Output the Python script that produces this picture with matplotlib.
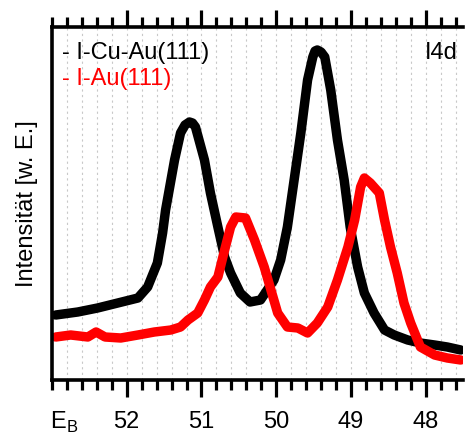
import matplotlib
matplotlib.use("Agg")
import matplotlib.pyplot as plt
from matplotlib.ticker import MultipleLocator

plt.rcParams['font.family'] = ['Liberation Sans', 'DejaVu Sans']

# Binding energy (eV) and intensity (arb. units)
e_cuau = [52.95, 52.655, 52.39, 52.12, 51.85, 51.72, 51.59, 51.52, 51.48, 51.36,
          51.28, 51.22, 51.16, 51.12, 51.08, 50.96, 50.88, 50.78, 50.69, 50.61,
          50.48, 50.35, 50.21, 50.03, 49.94, 49.85, 49.76, 49.67, 49.58, 49.51,
          49.48, 49.45, 49.40, 49.35, 49.27, 49.18, 49.09, 49.01, 48.91, 48.82,
          48.69, 48.55, 48.42, 48.24, 48.07, 47.88, 47.71, 47.53]
i_cuau = [65, 68, 72, 77, 82, 93, 117, 147, 170, 220,
          247, 255, 258, 257, 253, 220, 187, 153, 123, 107,
          87, 78, 80, 100, 120, 153, 200, 247, 300, 323,
          329, 330, 328, 323, 290, 240, 200, 153, 113, 87,
          67, 50, 45, 40, 37, 35, 33, 30]

e_au = [52.95, 52.75, 52.52, 52.41, 52.29, 52.08, 51.85, 51.63, 51.41, 51.28,
        51.18, 51.05, 50.96, 50.88, 50.78, 50.69, 50.61, 50.54, 50.41, 50.29,
        50.16, 50.07, 49.98, 49.85, 49.71, 49.58, 49.45, 49.31, 49.18, 49.04,
        48.95, 48.87, 48.82, 48.74, 48.62, 48.55, 48.47, 48.38, 48.29, 48.20,
        48.07, 47.88, 47.71, 47.53]
i_au = [43, 45, 43, 48, 43, 42, 45, 48, 50, 53,
        60, 67, 80, 93, 103, 130, 153, 163, 162, 140,
        113, 90, 67, 53, 52, 47, 57, 73, 100, 133,
        160, 193, 202, 197, 187, 160, 133, 107, 77, 57,
        33, 25, 22, 20]

major_ticks = [52, 51, 50, 49, 48]
tick_labels = ["52", "51", "50", "49", "48"]

fig = plt.figure(figsize=(4.67, 4.37), dpi=100)
ax = fig.add_axes([52/467, 1-380/437, 411/467, 353/437])

ax.plot(e_cuau, i_cuau, color='black', lw=6.8, solid_capstyle='round', solid_joinstyle='round')
ax.plot(e_au, i_au, color='#ff0000', lw=6.8, solid_capstyle='round', solid_joinstyle='round')

ax.set_xlim(53.0, 47.5)
ax.set_ylim(0, 353)

ax.set_xticks(major_ticks)
ax.set_xticklabels(tick_labels, fontsize=17)
ax.xaxis.set_minor_locator(MultipleLocator(0.2))
ax.set_yticks([])
ax.tick_params(axis='x', which='major', direction='out', length=12, width=2.3,
               top=True, bottom=True, pad=10)
ax.tick_params(axis='x', which='minor', direction='out', length=7, width=2.3,
               top=True, bottom=True)
ax.grid(True, axis='x', which='both', color='#c8c8c8', ls=(0, (2, 3)), lw=0.8)

for s in ['left', 'bottom', 'top']:
    ax.spines[s].set_linewidth(2.6)
ax.spines['right'].set_visible(False)

ax.set_ylabel("Intensität [w. E.]", fontsize=17, labelpad=10)
fig.text(50/467, 1-422/437, r"E$_\mathregular{B}$", fontsize=17, va='center', ha='left')

ax.text(62/467, 1-53/437, "- I-Cu-Au(111)", transform=fig.transFigure,
        fontsize=17, color='black', va='center', ha='left')
ax.text(62/467, 1-79/437, "- I-Au(111)", transform=fig.transFigure,
        fontsize=17, color='#ff0000', va='center', ha='left')
ax.text(458/467, 1-53/437, "I4d", transform=fig.transFigure,
        fontsize=17, color='black', va='center', ha='right')

fig.savefig("out.png", dpi=100)
